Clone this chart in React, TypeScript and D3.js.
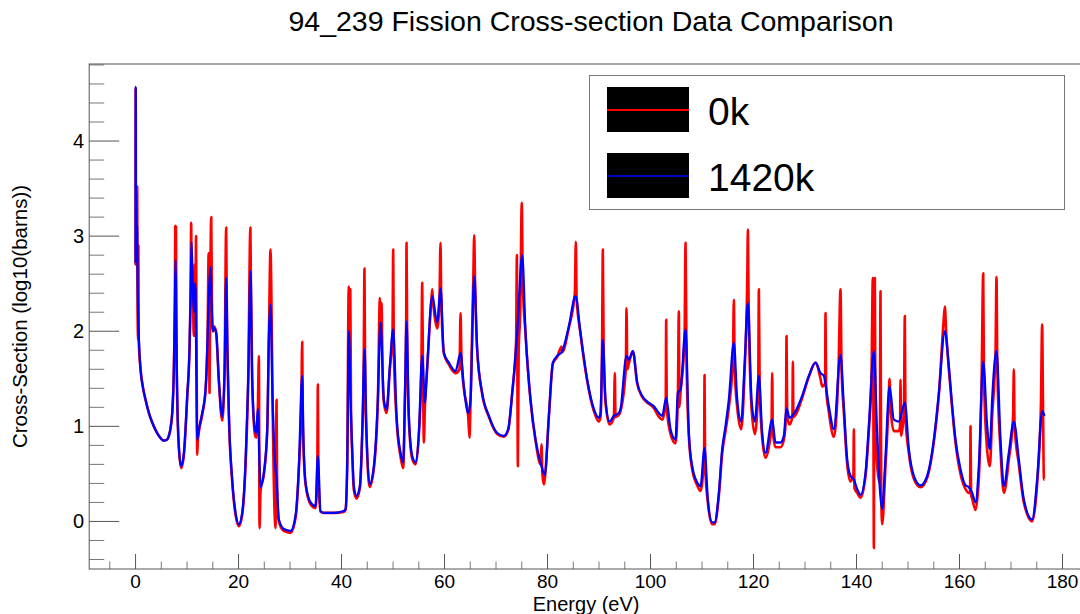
import * as d3 from "d3";

type Pt = [number, number]; // [energy eV, log10(barns)]

// 0k evaluation (red): sharp resonances
const RED_0K: Pt[] = [
  [0, 2.7], [0.03, 4.55], [0.08, 2.7], [0.15, 3.3], [0.25, 2.75], [0.32, 3.52], [0.4, 2.2], [0.5, 1.91],
  [0.55, 2.9], [0.62, 1.9], [0.97, 1.6], [1.4, 1.42], [1.94, 1.28], [2.6, 1.14], [3.24, 1.04], [3.9, 0.96],
  [4.53, 0.9], [5.5, 0.85], [6.1, 0.86], [6.47, 0.9], [6.85, 1.0], [7.12, 1.14], [7.44, 1.6], [7.65, 2.5],
  [7.72, 3.11], [7.8, 2.4], [7.85, 3.1], [7.95, 1.8], [8.09, 1.3], [8.41, 0.77], [8.87, 0.56], [9.39, 0.7],
  [10.03, 1.3], [10.49, 1.84], [10.7, 2.5], [10.8, 3.14], [10.9, 2.4], [11.1, 2.5], [11.3, 1.95], [11.45, 2.7],
  [11.6, 1.95], [11.75, 3.0], [11.85, 1.9], [11.97, 0.7], [12.1, 0.85], [12.94, 1.12], [13.59, 1.37],
  [13.98, 1.9], [14.2, 2.82], [14.3, 1.95], [14.37, 1.35], [14.5, 2.4], [14.7, 3.2], [14.85, 2.2], [15.05, 2.0],
  [15.3, 2.05], [15.66, 1.98], [16.18, 1.47], [16.83, 1.06], [17.28, 1.56], [17.6, 3.09], [17.7, 2.4],
  [18.12, 1.12], [18.77, 0.42], [19.42, 0.07], [20.06, -0.05], [20.71, 0.07], [21.36, 0.6], [21.88, 1.49],
  [22.3, 3.09], [22.4, 2.5], [22.65, 1.49], [23.17, 0.92], [23.43, 0.88], [23.75, 1.18], [23.95, 1.74],
  [24.08, -0.07], [24.27, 0.32], [24.92, 0.5], [25.57, 0.95], [25.89, 1.94], [26.21, 2.86], [26.35, 2.5],
  [26.6, 1.3], [27.18, -0.07], [27.38, 1.28], [27.5, 0.3], [27.83, 0.0], [28.8, -0.1], [30.1, -0.12],
  [31.07, 0.04], [31.72, 0.56], [32.2, 1.3], [32.36, 1.89], [32.5, 1.0], [33.01, 0.39], [33.98, 0.18],
  [34.95, 0.14], [35.3, 0.6], [35.4, 1.44], [35.5, 0.5], [35.92, 0.1], [36.57, 0.09], [38.51, 0.09],
  [40.45, 0.1], [40.78, 0.12], [41.1, 0.6], [41.4, 2.47], [41.55, 1.6], [41.7, 2.44], [41.85, 1.1],
  [42.07, 0.72], [42.39, 0.33], [42.91, 0.24], [43.56, 0.35], [44.01, 0.9], [44.3, 1.6], [44.45, 2.66],
  [44.6, 1.4], [44.85, 0.9], [45.44, 0.36], [46.28, 0.56], [47.05, 1.26], [47.45, 2.35], [47.6, 2.1],
  [47.75, 2.3], [48.0, 1.5], [48.22, 1.25], [48.74, 1.14], [49.38, 1.6], [49.9, 2.0], [50.03, 2.86],
  [50.15, 1.8], [50.68, 1.08], [51.46, 0.68], [51.97, 0.56], [52.3, 1.26], [52.55, 2.1], [52.62, 2.93],
  [52.75, 1.9], [53.07, 1.08], [53.72, 0.66], [54.37, 0.6], [55.02, 0.92], [55.5, 1.6], [55.66, 2.51],
  [55.8, 1.7], [55.99, 0.83], [56.18, 1.2], [56.63, 1.6], [57.4, 2.3], [57.61, 2.44], [57.8, 2.3],
  [58.58, 2.03], [59.0, 2.3], [59.22, 2.93], [59.35, 2.4], [59.87, 1.77], [60.84, 1.65], [62.14, 1.56],
  [62.9, 1.6], [63.11, 2.19], [63.3, 1.7], [63.75, 1.4], [64.6, 1.1], [64.85, 0.88], [65.05, 1.25],
  [65.6, 2.6], [65.76, 3.01], [65.9, 2.6], [66.34, 1.8], [67.31, 1.34], [68.61, 1.1], [70.23, 0.92],
  [71.52, 0.89], [72.36, 0.96], [73.14, 1.35], [73.9, 1.9], [74.05, 2.8], [74.15, 1.5], [74.24, 0.58],
  [74.4, 1.8], [74.7, 2.2], [75.0, 3.35], [75.2, 2.5], [75.73, 1.97], [76.7, 1.27], [77.67, 0.85],
  [78.64, 0.6], [78.83, 0.81], [79.0, 0.5], [79.29, 0.39], [79.48, 0.45], [80.26, 1.1], [81.04, 1.66],
  [81.88, 1.73], [82.72, 1.84], [82.85, 1.78], [84.14, 2.04], [85.3, 2.4], [85.5, 2.94], [85.65, 2.35],
  [86.41, 1.97], [87.7, 1.48], [89.0, 1.16], [89.97, 1.05], [90.29, 1.1], [90.6, 1.9], [90.74, 2.86],
  [90.9, 1.8], [91.26, 1.25], [92.04, 1.02], [92.88, 1.09], [93.07, 1.56], [93.2, 1.1], [93.85, 1.12],
  [94.17, 1.16], [95.2, 1.6], [95.34, 2.24], [95.5, 1.6], [95.79, 1.66], [96.57, 1.79], [97.41, 1.45],
  [98.38, 1.31], [99.35, 1.25], [100.65, 1.19], [101.62, 1.1], [102.27, 1.07], [102.95, 1.25],
  [103.04, 2.12], [103.15, 1.2], [103.88, 0.92], [104.85, 0.82], [105.31, 1.3], [105.5, 2.21],
  [105.6, 1.2], [105.83, 1.36], [106.6, 1.9], [106.8, 2.93], [107.0, 1.7], [107.44, 0.9], [108.09, 0.55],
  [109.06, 0.38], [109.71, 0.32], [110.4, 0.7], [110.49, 1.54], [110.6, 0.6], [111.13, 0.2],
  [111.97, -0.03], [112.43, -0.03], [113.27, 0.27], [113.92, 0.72], [114.56, 0.95], [115.21, 1.2],
  [116.0, 1.7], [116.18, 2.33], [116.35, 1.6], [116.83, 1.2], [117.61, 0.97], [118.25, 1.55], [118.8, 2.6],
  [118.9, 3.07], [119.05, 2.3], [119.61, 1.2], [120.26, 0.92], [120.9, 1.4], [121.04, 2.44], [121.2, 1.4],
  [121.68, 0.88], [122.33, 0.67], [123.5, 1.0], [123.62, 1.56], [123.75, 0.95], [124.27, 0.78],
  [125.24, 0.78], [125.89, 0.86], [126.3, 1.1], [126.41, 1.95], [126.55, 1.1], [126.99, 1.02],
  [127.55, 1.1], [127.64, 1.68], [127.75, 1.1], [128.16, 1.12], [129.45, 1.3], [130.74, 1.52],
  [132.04, 1.67], [133.01, 1.5], [133.33, 1.42], [133.9, 1.45], [133.98, 2.19], [134.1, 1.4],
  [134.63, 1.15], [135.6, 0.89], [136.5, 1.6], [136.89, 2.44], [137.1, 1.6], [137.54, 1.15], [138.19, 0.6],
  [138.83, 0.42], [139.4, 0.5], [139.48, 0.97], [139.6, 0.35], [140.13, 0.3], [140.78, 0.25],
  [141.75, 0.48], [142.39, 0.95], [142.9, 1.5], [143.17, 2.56], [143.3, 0.8], [143.37, -0.28],
  [143.45, 1.5], [143.56, 2.56], [143.7, 0.9], [144.0, 0.6], [144.5, 0.4], [144.66, 2.42], [144.8, 0.3],
  [144.98, -0.03], [145.6, 0.55], [146.2, 1.2], [146.41, 1.5], [146.6, 1.2], [147.25, 0.95],
  [148.22, 0.95], [148.45, 1.0], [148.54, 1.49], [148.65, 0.9], [149.2, 1.15], [149.38, 2.16],
  [149.5, 1.1], [150.16, 0.72], [151.13, 0.45], [152.43, 0.36], [153.72, 0.46], [155.02, 0.84],
  [155.99, 1.33], [156.9, 2.1], [157.15, 2.26], [157.4, 2.0], [157.93, 1.6], [158.6, 1.17], [159.22, 0.83],
  [160.19, 0.5], [161.17, 0.34], [161.81, 0.3], [162.05, 0.3], [162.14, 1.0], [162.25, 0.28],
  [162.46, 0.24], [163.11, 0.12], [163.75, 0.45], [164.3, 1.5], [164.6, 2.61], [164.75, 1.5],
  [165.37, 0.75], [165.89, 0.58], [166.34, 1.1], [167.0, 1.8], [167.18, 2.57], [167.35, 1.6],
  [167.96, 0.75], [168.61, 0.3], [169.58, 0.65], [170.4, 1.1], [170.55, 1.6], [170.7, 1.0], [171.52, 0.6],
  [172.49, 0.2], [174.11, 0.0], [175.08, 0.4], [175.8, 1.2], [176.05, 2.07], [176.2, 1.3], [176.4, 0.44],
  [176.5, 0.44],
];

// 1420k evaluation (blue): Doppler broadened
const BLUE_1420K: Pt[] = [
  [0, 2.72], [0.03, 4.57], [0.08, 2.75], [0.15, 3.45], [0.22, 2.8], [0.3, 3.1], [0.4, 2.5], [0.5, 2.15],
  [0.65, 1.91], [0.97, 1.6], [1.4, 1.42], [1.94, 1.28], [2.6, 1.14], [3.24, 1.04], [3.9, 0.96], [4.53, 0.9],
  [5.5, 0.85], [6.1, 0.86], [6.47, 0.9], [6.85, 1.0], [7.12, 1.14], [7.44, 1.6], [7.65, 2.3], [7.77, 2.75],
  [7.9, 2.2], [8.09, 1.32], [8.41, 0.79], [8.87, 0.58], [9.39, 0.72], [10.03, 1.32], [10.49, 1.84],
  [10.7, 2.4], [10.87, 2.94], [11.1, 2.5], [11.33, 2.2], [11.5, 2.5], [11.65, 2.44], [11.78, 1.7],
  [11.97, 0.86], [12.4, 1.0], [12.94, 1.14], [13.59, 1.39], [13.98, 1.92], [14.24, 2.4], [14.56, 2.67],
  [14.76, 2.3], [15.0, 2.0], [15.21, 2.04], [15.66, 1.98], [16.18, 1.49], [16.83, 1.1], [17.28, 1.56],
  [17.6, 2.56], [17.85, 1.8], [18.12, 1.14], [18.77, 0.44], [19.42, 0.09], [20.06, -0.03], [20.71, 0.09],
  [21.36, 0.62], [21.88, 1.49], [22.33, 2.63], [22.65, 1.49], [23.17, 0.97], [23.43, 0.93], [23.75, 1.18],
  [24.08, 0.6], [24.27, 0.36], [24.92, 0.51], [25.57, 0.97], [25.89, 1.94], [26.21, 2.28], [26.6, 1.3],
  [27.18, 0.55], [27.38, 0.45], [27.83, 0.02], [28.8, -0.08], [30.1, -0.1], [31.07, 0.06], [31.72, 0.58],
  [32.36, 1.53], [32.56, 0.97], [33.01, 0.41], [33.98, 0.2], [34.95, 0.16], [35.4, 0.69], [35.92, 0.11],
  [36.57, 0.09], [38.51, 0.09], [40.45, 0.11], [40.78, 0.13], [41.1, 0.58], [41.42, 2.0], [41.75, 1.28],
  [42.07, 0.76], [42.39, 0.37], [42.91, 0.27], [43.56, 0.37], [44.01, 0.93], [44.47, 1.81], [44.85, 0.93],
  [45.44, 0.39], [46.28, 0.58], [47.05, 1.28], [47.57, 2.09], [48.22, 1.28], [48.74, 1.18], [49.38, 1.63],
  [50.03, 2.02], [50.68, 1.11], [51.46, 0.72], [51.97, 0.62], [52.3, 1.28], [52.62, 2.1], [53.07, 1.11],
  [53.72, 0.69], [54.37, 0.62], [55.02, 0.93], [55.66, 1.74], [56.18, 1.25], [56.63, 1.63], [57.61, 2.37],
  [58.58, 2.09], [59.22, 2.45], [59.87, 1.77], [60.84, 1.67], [62.14, 1.58], [63.11, 1.77], [63.75, 1.42],
  [64.6, 1.14], [65.05, 1.28], [65.76, 2.58], [66.34, 1.81], [67.31, 1.35], [68.61, 1.11], [70.23, 0.93],
  [71.52, 0.9], [72.36, 0.97], [73.14, 1.35], [74.11, 1.98], [75.08, 2.8], [75.73, 1.98], [76.7, 1.28],
  [77.67, 0.86], [78.64, 0.62], [79.48, 0.49], [80.26, 1.11], [81.04, 1.67], [81.88, 1.74], [82.85, 1.79],
  [84.14, 2.05], [85.44, 2.37], [86.41, 1.98], [87.7, 1.49], [89.0, 1.18], [89.97, 1.09], [90.29, 1.14],
  [90.74, 1.91], [91.26, 1.28], [92.04, 1.05], [92.88, 1.11], [93.85, 1.14], [94.17, 1.18], [95.34, 1.74],
  [95.79, 1.7], [96.57, 1.79], [97.41, 1.46], [98.38, 1.32], [99.35, 1.26], [100.65, 1.21], [101.62, 1.14],
  [102.27, 1.11], [103.04, 1.3], [103.88, 0.97], [104.85, 0.86], [105.31, 1.35], [105.83, 1.39],
  [106.8, 2.02], [107.44, 0.93], [108.09, 0.58], [109.06, 0.41], [109.71, 0.37], [110.49, 0.77],
  [111.13, 0.23], [111.97, -0.01], [112.43, -0.01], [113.27, 0.3], [113.92, 0.76], [114.56, 1.0],
  [115.21, 1.28], [116.18, 1.88], [116.83, 1.28], [117.61, 1.05], [118.25, 1.63], [118.9, 2.3],
  [119.61, 1.28], [120.26, 1.05], [121.04, 1.53], [121.68, 0.93], [122.33, 0.72], [123.62, 1.07],
  [124.27, 0.83], [125.24, 0.83], [125.89, 0.9], [126.41, 1.19], [126.99, 1.09], [128.16, 1.16],
  [129.45, 1.32], [130.74, 1.53], [132.04, 1.67], [133.01, 1.56], [133.66, 1.53], [134.63, 1.21],
  [135.6, 0.97], [136.89, 1.75], [137.54, 1.21], [138.19, 0.65], [138.83, 0.48], [139.48, 0.44],
  [140.13, 0.34], [140.78, 0.28], [141.75, 0.51], [142.39, 1.0], [143.37, 1.79], [144.0, 0.93],
  [144.98, 0.13], [145.6, 0.65], [146.41, 1.42], [147.25, 1.07], [148.22, 1.05], [149.38, 1.25],
  [150.16, 0.76], [151.13, 0.48], [152.43, 0.38], [153.72, 0.48], [155.02, 0.86], [155.99, 1.35],
  [157.15, 2.0], [157.93, 1.63], [158.6, 1.2], [159.22, 0.86], [160.19, 0.55], [161.17, 0.38],
  [161.81, 0.36], [162.46, 0.3], [163.11, 0.2], [163.75, 0.58], [164.6, 1.68], [165.37, 1.0],
  [165.89, 0.76], [166.34, 1.28], [167.18, 1.79], [167.96, 0.86], [168.61, 0.37], [169.58, 0.72],
  [170.55, 1.05], [171.52, 0.65], [172.49, 0.23], [174.11, 0.02], [175.08, 0.44], [176.05, 1.16],
  [176.5, 1.11],
];

const X_TICKS = [0, 20, 40, 60, 80, 100, 120, 140, 160, 180];
const Y_TICKS = [0, 1, 2, 3, 4];
const LEGEND = [
  { label: "0k", color: "#ff0000", width: 2 },
  { label: "1420k", color: "#0000ff", width: 1.5 },
];

const W = 1080;
const H = 614;
const FONT = '"Liberation Sans", Arial, Helvetica, sans-serif';
const AXIS = "#555";

export default function App() {
  const x = d3.scaleLinear().domain([-9, 184]).range([89.2, 1083.1]);
  const y = d3.scaleLinear().domain([-0.5, 4.81]).range([569, 64]);
  const [x0, x1] = x.range();
  const [yb, yt] = y.range();

  const line = d3
    .line<Pt>()
    .x((d) => x(d[0]))
    .y((d) => y(d[1]))
    .curve(d3.curveMonotoneX);

  // minor ticks: every 5 eV, every 0.2 decade
  const xMinor = d3.range(-1, 37).map((i) => i * 5).filter((v) => v % 20 !== 0);
  const yMinor = d3.range(-2, 25).map((i) => i / 5).filter((v) => !Number.isInteger(v));

  return (
    <svg
      width={W}
      height={H}
      style={{ position: "absolute", left: 0, top: 0, background: "#fff" }}
      fontFamily={FONT}
    >
      <defs>
        <clipPath id="plot-area">
          <rect x={x0} y={yt} width={x1 - x0} height={yb - yt} />
        </clipPath>
      </defs>

      {/* Title */}
      <text x={591} y={31} textAnchor="middle" fontSize={28.5} fill="#000">
        94_239 Fission Cross-section Data Comparison
      </text>

      {/* Data */}
      <g clipPath="url(#plot-area)">
        <path d={line(RED_0K) ?? ""} fill="none" stroke="#ff0000" strokeWidth={2.6} strokeLinejoin="round" />
        <path d={line(BLUE_1420K) ?? ""} fill="none" stroke="#0000ff" strokeWidth={2.3} strokeLinejoin="round" />
      </g>

      {/* Frame */}
      <rect x={x0} y={yt} width={x1 - x0} height={yb - yt} fill="none" stroke={AXIS} strokeWidth={1} />

      {/* Y ticks (inward) */}
      {Y_TICKS.map((t) => (
        <g key={`ym${t}`}>
          <line x1={x0} x2={x0 + 30} y1={y(t)} y2={y(t)} stroke={AXIS} />
          <text x={x0 - 5} y={y(t)} dy="0.35em" textAnchor="end" fontSize={20} fill="#000">
            {t}
          </text>
        </g>
      ))}
      {yMinor.map((t) => (
        <line key={`yn${t}`} x1={x0} x2={x0 + 15} y1={y(t)} y2={y(t)} stroke={AXIS} strokeOpacity={0.8} />
      ))}

      {/* X ticks (inward) */}
      {X_TICKS.map((t) => (
        <g key={`xm${t}`}>
          <line x1={x(t)} x2={x(t)} y1={yb} y2={yb - 15} stroke={AXIS} />
          <text x={x(t)} y={yb + 19} textAnchor="middle" fontSize={19} fill="#000">
            {t}
          </text>
        </g>
      ))}
      {xMinor.map((t) => (
        <line key={`xn${t}`} x1={x(t)} x2={x(t)} y1={yb} y2={yb - 7.5} stroke={AXIS} strokeOpacity={0.8} />
      ))}

      {/* Axis titles */}
      <text x={(x0 + x1) / 2} y={611} textAnchor="middle" fontSize={20} fill="#000">
        Energy (eV)
      </text>
      <text
        transform={`translate(27,${(yt + yb) / 2}) rotate(-90)`}
        textAnchor="middle"
        fontSize={20.5}
        fill="#000"
      >
        Cross-Section (log10(barns))
      </text>

      {/* Legend */}
      <g>
        <rect x={589.5} y={75.5} width={475} height={134} fill="#fff" stroke="#777" strokeWidth={1} />
        {LEGEND.map((l, i) => {
          const top = 87 + i * 66;
          return (
            <g key={l.label}>
              <rect x={607} y={top} width={82} height={45} fill="#000" />
              <line x1={607} x2={689} y1={top + 23} y2={top + 23} stroke={l.color} strokeWidth={l.width} />
              <text x={708} y={top + 38} fontSize={39} fill="#000">
                {l.label}
              </text>
            </g>
          );
        })}
      </g>
    </svg>
  );
}
